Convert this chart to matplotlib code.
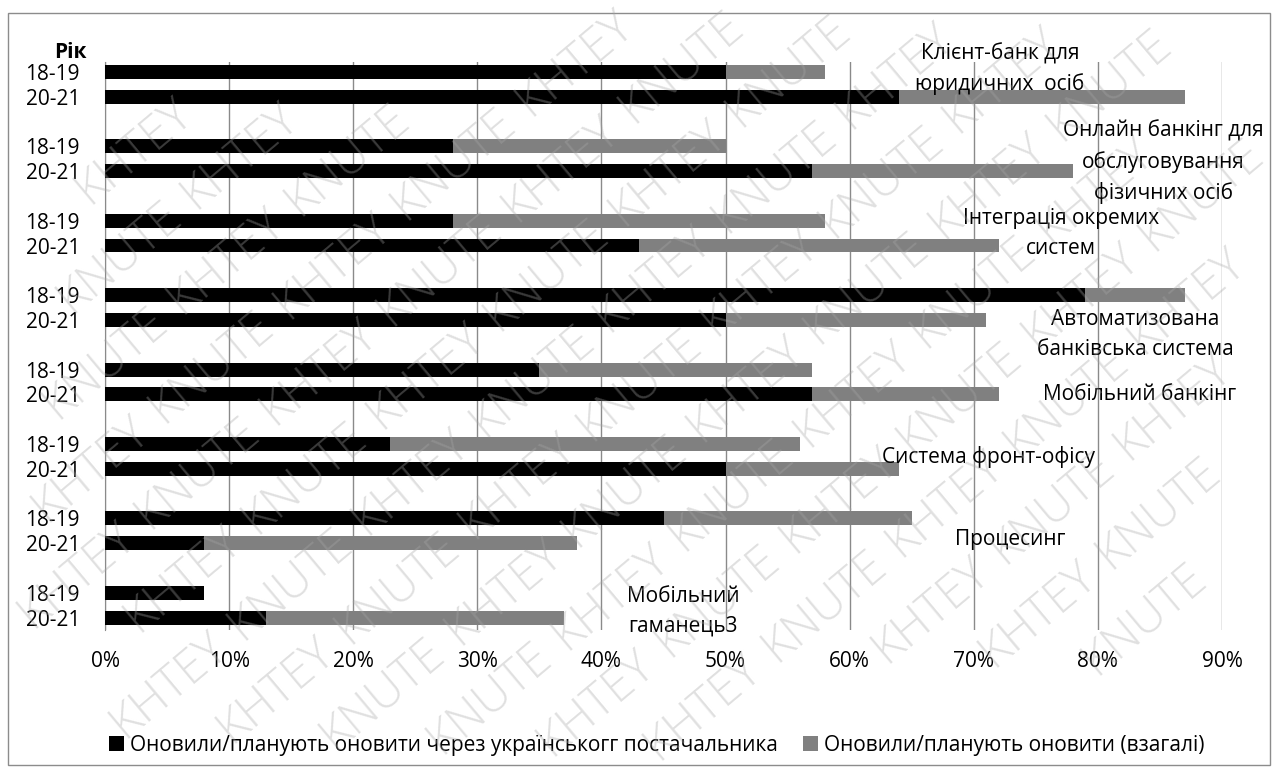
import numpy as np
import matplotlib
matplotlib.use("Agg")
import matplotlib.pyplot as plt
from matplotlib.patches import Patch, Rectangle

plt.rcParams['font.family'] = ['Open Sans', 'DejaVu Sans']

systems = [
    "Клієнт-банк для\nюридичних  осіб",
    "Онлайн банкінг для\nобслуговування\nфізичних осіб",
    "Інтеграція окремих\nсистем",
    "Автоматизована\nбанківська система",
    "Мобільний банкінг",
    "Система фронт-офісу",
    "Процесинг",
    "Мобільний\nгаманець3",
]
years = ["18-19", "20-21"]

# частка банків, що оновили через українського постачальника, %
ukr_1819 = [50, 28, 28, 79, 35, 23, 45, 8]
ukr_2021 = [64, 57, 43, 50, 57, 50, 8, 13]
# частка банків, що оновили взагалі, %
total_1819 = [58, 50, 58, 87, 57, 56, 65, 8]
total_2021 = [87, 78, 72, 71, 72, 64, 38, 37]

legend_labels = ["Оновили/планують оновити через українськогг постачальника",
                 "Оновили/планують оновити (взагалі)"]
mark_words = ["KNUTE", "KHTEY"]

# підписи систем: (x, y) у координатах даних
label_pos = [(72.1, -0.12), (85.3, 3.63), (77.0, 6.53), (83.0, 10.6),
             (83.4, 13.0), (71.2, 15.52), (72.9, 18.87), (46.6, 21.73)]

W, H = 1278, 771
fig = plt.figure(figsize=(W / 100, H / 100), dpi=100)
ax = fig.add_axes([105 / W, 1 - 630 / H, (1222 - 105) / W, (630 - 62) / H])

n = len(systems)
pos18 = np.arange(n) * 3
pos20 = pos18 + 1
h = 0.56

ax.barh(pos18, total_1819, height=h, color="#808080", zorder=2)
ax.barh(pos20, total_2021, height=h, color="#808080", zorder=2)
ax.barh(pos18, ukr_1819, height=h, color="black", zorder=3)
ax.barh(pos20, ukr_2021, height=h, color="black", zorder=3)

ax.set_xlim(0, 90)
ax.set_ylim(22.5, -0.4)
ax.set_xticks(np.arange(0, 91, 10))
ax.set_xticklabels([f"{v}%" for v in range(0, 91, 10)])
ax.set_yticks(np.concatenate([pos18, pos20]))
ax.set_yticklabels([years[0]] * n + [years[1]] * n)
ax.tick_params(axis='both', length=0, labelsize=15)
ax.tick_params(axis='x', pad=15)
ax.tick_params(axis='y', pad=18)
ax.xaxis.grid(True, color="#8a8a8a", linewidth=1, zorder=0)
ax.set_axisbelow(True)
for s in ["top", "right", "bottom"]:
    ax.spines[s].set_visible(False)
ax.spines["left"].set_color("#8a8a8a")

for text, (x, y) in zip(systems, label_pos):
    ax.text(x, y, text, ha="center", va="center", fontsize=15,
            linespacing=1.55, zorder=5, clip_on=False)

fig.text(70 / W, 1 - 52 / H, "Рік", ha="center", va="center",
         fontsize=15, fontweight="bold")

handles = [Patch(facecolor="black"), Patch(facecolor="#808080")]
fig.legend(handles, legend_labels, loc="center", bbox_to_anchor=(0.514, 1 - 745 / H),
           ncol=2, frameon=False, fontsize=15, handlelength=0.7, handleheight=0.7,
           handletextpad=0.3, columnspacing=1.2)

fig.patches.append(Rectangle((8 / W, 1 - 765 / H), 1262 / W, 752 / H,
                             transform=fig.transFigure, fill=False,
                             edgecolor="#8c8c8c", linewidth=1))

# водяний знак: слова по діагоналях під кутом 40°, лише ті, що цілком у межах рисунка
ang = np.deg2rad(40)
d = np.array([np.cos(ang), np.sin(ang)])
nv = np.array([-np.sin(ang), np.cos(ang)])
step, gap = 158, 72
for j in range(-20, 21):
    for i in range(-14, 15):
        cx, cy = np.array([W / 2, H / 2]) + (i + 0.5 * (j % 2)) * step * d + j * gap * nv
        if 68 < cx < W - 68 and 62 < cy < H - 62:
            fig.text(cx / W, cy / H, mark_words[(i + j) % 2], rotation=40,
                     rotation_mode="anchor", ha="center", va="center",
                     fontsize=34, color="#a6a6a6", alpha=0.35,
                     fontweight="light", zorder=10)

fig.savefig("out.png", dpi=100)
